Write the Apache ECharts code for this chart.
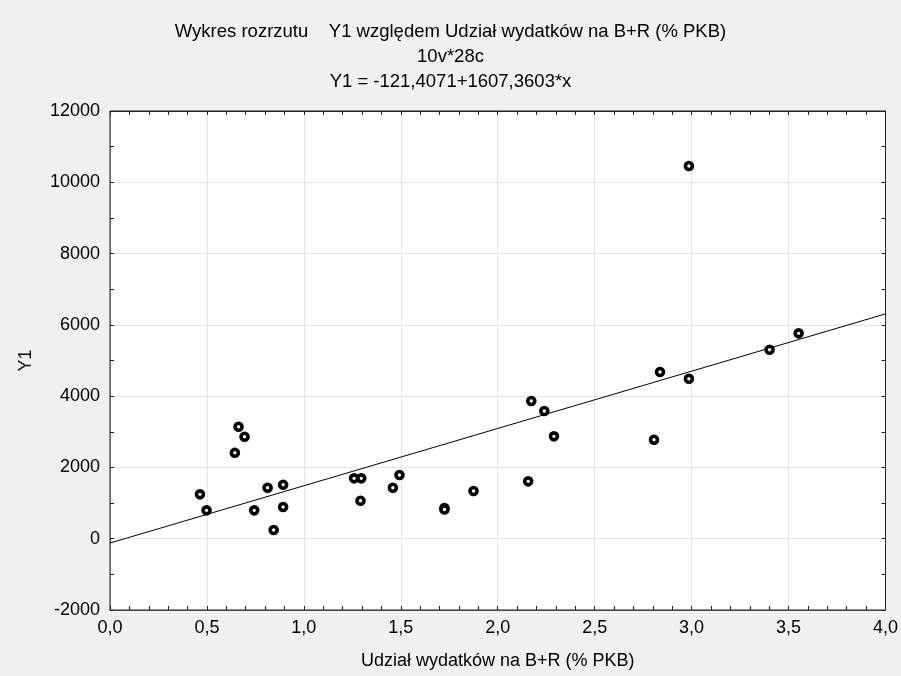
<!DOCTYPE html>
<html>
<head>
<meta charset="utf-8">
<script src="https://cdn.jsdelivr.net/npm/echarts@6/dist/echarts.min.js"></script>
<style>
html,body{margin:0;padding:0;background:#f0f0f0;}
#chart{width:901px;height:676px;}
</style>
</head>
<body>
<div id="chart"></div>
<script>
// Data
var xValues = [0.464,0.498,0.644,0.663,0.694,0.744,0.813,0.844,0.893,0.893,1.259,1.296,1.292,1.459,1.493,1.725,1.725,1.875,2.157,2.173,2.240,2.290,2.806,2.837,2.986,2.986,3.402,3.552];
var yValues = [1245,796,2412,3142,2861,796,1430,243,1514,888,1693,1693,1065,1430,1786,860,820,1337,1609,3863,3582,2872,2777,4676,4488,10457,5302,5762];
var fitIntercept = -121.4071;
var fitSlope = 1607.3603;
var fitRangeX = [0, 4];
var titleLines = ["Wykres rozrzutu    Y1 względem Udział wydatków na B+R (% PKB)", "10v*28c", "Y1 = -121,4071+1607,3603*x"];
var xAxisName = "Udział wydatków na B+R (% PKB)";
var yAxisName = "Y1";

var points = xValues.map(function(x, i){ return [x, yValues[i]]; });
var fitLine = fitRangeX.map(function(x){ return [x, fitIntercept + fitSlope * x]; });

var FONT = '"Liberation Sans", Arial, sans-serif';
var FS = 18;
var chart = echarts.init(document.getElementById('chart'), null, {renderer:'canvas'});
var tickStyle = {show:true, inside:true, length:4, lineStyle:{color:'#222', width:1}};
var minorStyle = {show:true, splitNumber:5, length:4, lineStyle:{color:'#222', width:1}};
var labelStyle = {fontFamily:FONT, fontSize:FS, color:'#000'};

chart.setOption({
  backgroundColor:'#f0f0f0',
  animation:false,
  title: titleLines.map(function(t, i){
    return {text:t, left:'center', top:17 + i*25, textStyle:{fontFamily:FONT, fontSize:18.5, fontWeight:'normal', color:'#000'}};
  }),
  grid:{left:110, right:15, top:111, bottom:66, show:true, backgroundColor:'#fff', borderColor:'#222', borderWidth:1},
  xAxis:[{
    type:'value', min:0, max:4, interval:0.5, position:'bottom',
    name:xAxisName, nameLocation:'middle', nameGap:42,
    nameTextStyle:{fontFamily:FONT, fontSize:FS, color:'#000'},
    axisLine:{show:true, onZero:false, lineStyle:{color:'#444', width:1}},
    axisTick:tickStyle, minorTick:minorStyle,
    axisLabel:Object.assign({margin:9, formatter:function(v){return v.toFixed(1).replace('.', ',');}}, labelStyle),
    splitLine:{show:true, lineStyle:{color:'#e4e4e4', width:1}}
  },{
    type:'value', min:0, max:4, interval:0.5, position:'top',
    axisLine:{show:true, onZero:false, lineStyle:{color:'#222'}},
    axisTick:tickStyle, minorTick:minorStyle,
    axisLabel:{show:false}, splitLine:{show:false}
  }],
  yAxis:[{
    type:'value', min:-2000, max:12000, interval:2000, position:'left',
    name:yAxisName, nameLocation:'middle', nameGap:75, nameRotate:90,
    nameTextStyle:{fontFamily:FONT, fontSize:FS, color:'#000'},
    axisLine:{show:true, onZero:false, lineStyle:{color:'#666', width:1}},
    axisTick:tickStyle, minorTick:Object.assign({}, minorStyle, {splitNumber:2}),
    axisLabel:Object.assign({margin:10, formatter:function(v){return String(v);}}, labelStyle),
    splitLine:{show:true, lineStyle:{color:'#e4e4e4', width:1}}
  },{
    type:'value', min:-2000, max:12000, interval:2000, position:'right',
    axisLine:{show:true, onZero:false, lineStyle:{color:'#222'}},
    axisTick:tickStyle, minorTick:Object.assign({}, minorStyle, {splitNumber:2}),
    axisLabel:{show:false}, splitLine:{show:false}
  }],
  series:[{
    type:'line', data:fitLine, xAxisIndex:0, yAxisIndex:0, symbol:'none',
    lineStyle:{color:'#000', width:1}, silent:true, z:2
  },{
    type:'scatter', data:points, xAxisIndex:0, yAxisIndex:0,
    symbol:'circle', symbolSize:7,
    itemStyle:{color:'#fff', borderColor:'#000', borderWidth:3.6, opacity:1}, z:3
  }]
});
</script>
</body>
</html>
